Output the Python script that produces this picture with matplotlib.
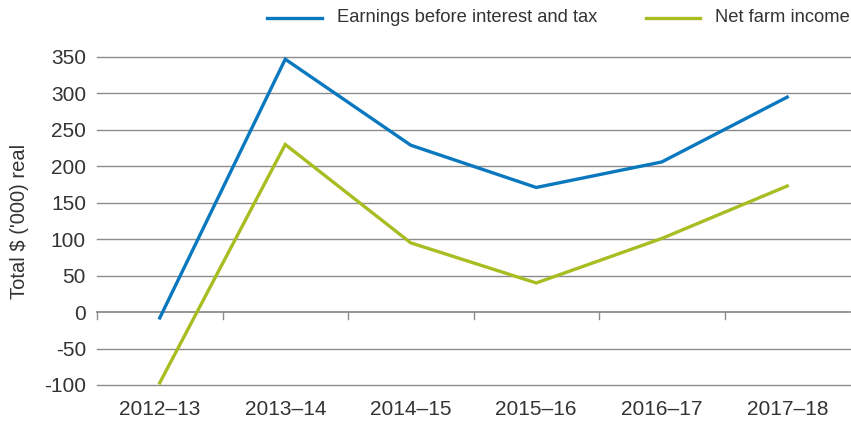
import matplotlib
matplotlib.use("Agg")
import matplotlib.pyplot as plt
from matplotlib.lines import Line2D

categories = ["2012\u201313", "2013\u201314", "2014\u201315", "2015\u201316", "2016\u201317", "2017\u201318"]
ebit = [-8, 347, 229, 171, 206, 295]
nfi = [-97, 230, 95, 40, 101, 173]
yticks = [-100, -50, 0, 50, 100, 150, 200, 250, 300, 350]
series_names = ["Earnings before interest and tax", "Net farm income"]

BLUE = "#0a78be"
GREEN = "#a8bd22"
TXT = "#333333"
GRID = "#8c8c8c"

plt.rcParams['font.family'] = ['Liberation Sans', 'DejaVu Sans']

W, H = 851, 429
fig = plt.figure(figsize=(W / 100, H / 100), dpi=100)
left, right, top, bottom = 97, 850, 57, 385
ax = fig.add_axes([left / W, 1 - bottom / H, (right - left) / W, (bottom - top) / H])

x = list(range(len(categories)))
ax.set_xlim(-0.5, len(categories) - 0.5)
ax.set_ylim(-100, 350)

for v in yticks:
    ax.axhline(v, color=GRID, lw=1.0 if v != 0 else 1.3, zorder=1,
               clip_on=False)
# tick marks on zero line at category boundaries
for b in [i - 0.5 for i in range(len(categories))]:
    ax.plot([b, b], [0, -9.5], color=GRID, lw=1.0, clip_on=False, zorder=1)

ax.plot(x, ebit, color=BLUE, lw=2.4, solid_joinstyle='miter', clip_on=False, zorder=3)
ax.plot(x, nfi, color=GREEN, lw=2.4, solid_joinstyle='miter', clip_on=False, zorder=3)

for s in ax.spines.values():
    s.set_visible(False)
ax.set_yticks(yticks)
ax.set_yticklabels([str(v) for v in yticks])
ax.set_xticks(x)
ax.set_xticklabels(categories)
ax.tick_params(axis='both', length=0, labelsize=15, colors=TXT)
ax.tick_params(axis='y', pad=8)
ax.tick_params(axis='x', pad=11)
ax.set_ylabel("Total $ ('000) real", fontsize=14.5, color=TXT, labelpad=11)

# legend drawn manually in figure pixel positions
ly = 1 - 18 / H
for (x0, x1, tx), col, name in zip([(267, 322, 337), (646, 700, 715)], [BLUE, GREEN], series_names):
    fig.add_artist(Line2D([x0 / W, x1 / W], [ly, ly], color=col, lw=2.4,
                          transform=fig.transFigure))
    fig.text(tx / W, ly, name, fontsize=13.2, color=TXT, va='center', ha='left')

fig.savefig("out.png", dpi=100)
